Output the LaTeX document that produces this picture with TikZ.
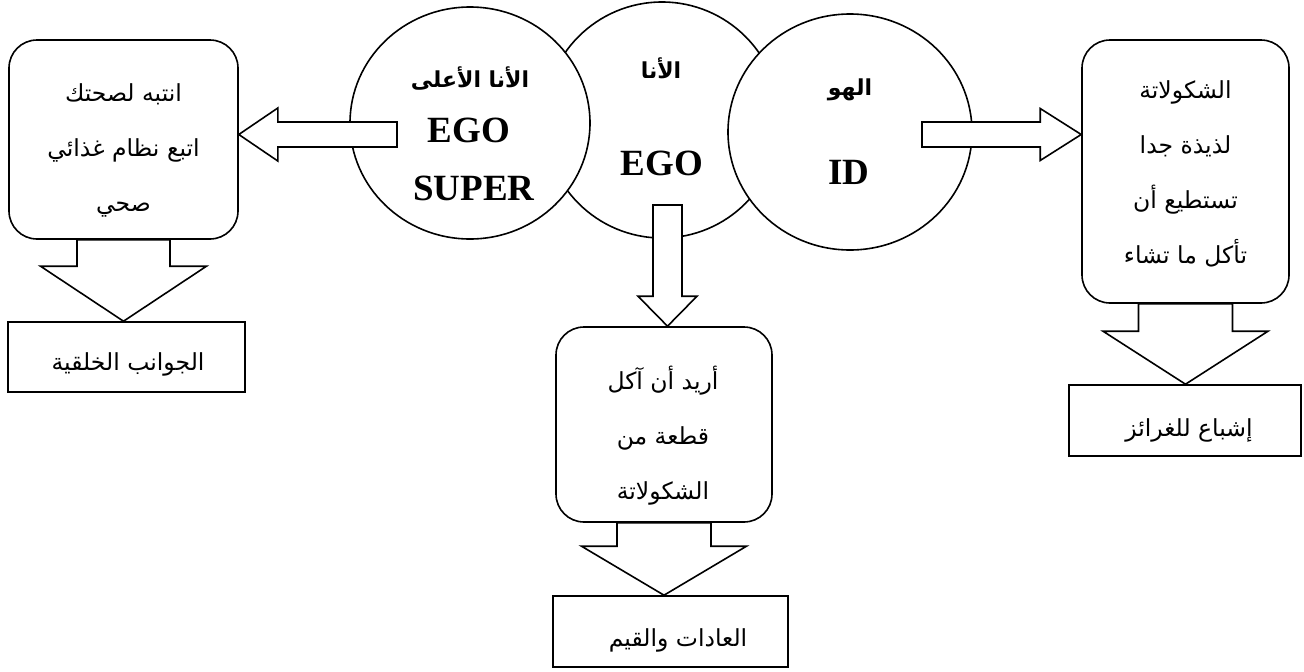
\documentclass[tikz,border=0pt]{standalone}
\usepackage{fontspec}
\usetikzlibrary{calc,shapes.geometric}
\setmainfont{Liberation Serif}
\newfontfamily\arfont[Script=Arabic]{DejaVu Sans}
\TeXXeTstate=1
\newcommand\arbody{\arfont\fontsize{23.5}{55}\selectfont}
\newcommand\RL[1]{\beginR #1\endR}
\newcommand\blockarrow[5]{%
  \coordinate (bah) at ($(#2)!#5!(#1)$);
  \draw[barrow] ($(#1)!#3!90:(#2)$) -- ($(bah)!#3!90:(#2)$) -- ($(bah)!#4!90:(#2)$) -- (#2)
    -- ($(bah)!#4!-90:(#2)$) -- ($(bah)!#3!-90:(#2)$) -- ($(#1)!#3!-90:(#2)$) -- cycle;}
\tikzset{
  ln/.style={line width=1.6pt},
  circ/.style={ln,draw,fill=white,ellipse,inner sep=0pt},
  rbox/.style={ln,draw,fill=white,rounded corners=28pt,inner sep=0pt},
  sbox/.style={ln,draw,fill=white,inner sep=0pt},
  artext/.style={font=\arbody,align=center,inner sep=0pt},
  latin/.style={font=\bfseries\fontsize{37}{40}\selectfont,inner sep=0pt},
  arlab/.style={font=\arfont\bfseries\fontsize{22}{26}\selectfont,inner sep=0pt},
  barrow/.style={ln,draw,fill=white,line join=miter},
}
\begin{document}
\begin{tikzpicture}[x=1pt,y=-1pt]
\useasboundingbox[fill=white] (0,0) rectangle (1304,672);
% circles
\node[circ,minimum width=236pt,minimum height=236pt] (ego) at (662,120) {};
\node[circ,minimum width=240pt,minimum height=232pt] (sup) at (470,123) {};
\node[circ,minimum width=244pt,minimum height=236pt] (id) at (850,132) {};
% circle labels
\node[arlab] (supar) at (470,79) {\RL{الأنا الأعلى}};
\node[latin] (supego) at (469,130) {EGO};
\node[latin] (supsup) at (474,188) {SUPER};
\node[arlab] (egoar) at (661,68) {\RL{الأنا}};
\node[latin] (egoego) at (662,163) {EGO};
\node[arlab] (idar) at (850,90) {\RL{الهو}};
\node[latin] (idid) at (849,172) {ID};
% boxes
\node[rbox,minimum width=229pt,minimum height=199pt] (lbox) at (123.5,139.5) {};
\node[artext] (lboxt) at (123.5,150) {\RL{انتبه لصحتك}\\\RL{اتبع نظام غذائي}\\\RL{صحي}};
\node[sbox,minimum width=237pt,minimum height=70pt] (lbot) at (126.5,357) {};
\node[artext] (lbott) at (128,364) {\RL{الجوانب الخلقية}};
\node[rbox,minimum width=216pt,minimum height=195pt] (mbox) at (664,424.5) {};
\node[artext] (mboxt) at (663,436) {\RL{أريد أن آكل}\\\RL{قطعة من}\\\RL{الشكولاتة}};
\node[sbox,minimum width=235pt,minimum height=71pt] (mbot) at (670.5,631.5) {};
\node[artext] (mbott) at (678,640) {\RL{العادات والقيم}};
\node[rbox,minimum width=207pt,minimum height=263pt] (rbox) at (1185.5,171.5) {};
\node[artext] (rboxt) at (1185.5,174) {\RL{الشكولاتة}\\\RL{لذيذة جدا}\\\RL{تستطيع أن}\\\RL{تأكل ما تشاء}};
\node[sbox,minimum width=232pt,minimum height=71pt] (rbot) at (1185,420.5) {};
\node[artext] (rbott) at (1189,430) {\RL{إشباع للغرائز}};
% arrows
\coordinate (s1) at (397,134.5);
\coordinate (t1) at (lbox.east |- s1);
\blockarrow{s1}{t1}{12.5pt}{26.5pt}{39pt}
\coordinate (s2) at (922,134.5);
\coordinate (t2) at (rbox.west |- s2);
\blockarrow{s2}{t2}{12.5pt}{26pt}{41pt}
\coordinate (s3) at (667.5,205);
\coordinate (t3) at (s3 |- mbox.north);
\blockarrow{s3}{t3}{14.5pt}{29.5pt}{30pt}
\coordinate (t4) at (lbox.south |- lbot.north);
\blockarrow{lbox.south}{t4}{46.5pt}{83pt}{55pt}
\coordinate (t5) at (mbox.south |- mbot.north);
\blockarrow{mbox.south}{t5}{47pt}{82.5pt}{49pt}
\coordinate (t6) at (rbox.south |- rbot.north);
\blockarrow{rbox.south}{t6}{47pt}{82.5pt}{53pt}
\end{tikzpicture}
\end{document}
